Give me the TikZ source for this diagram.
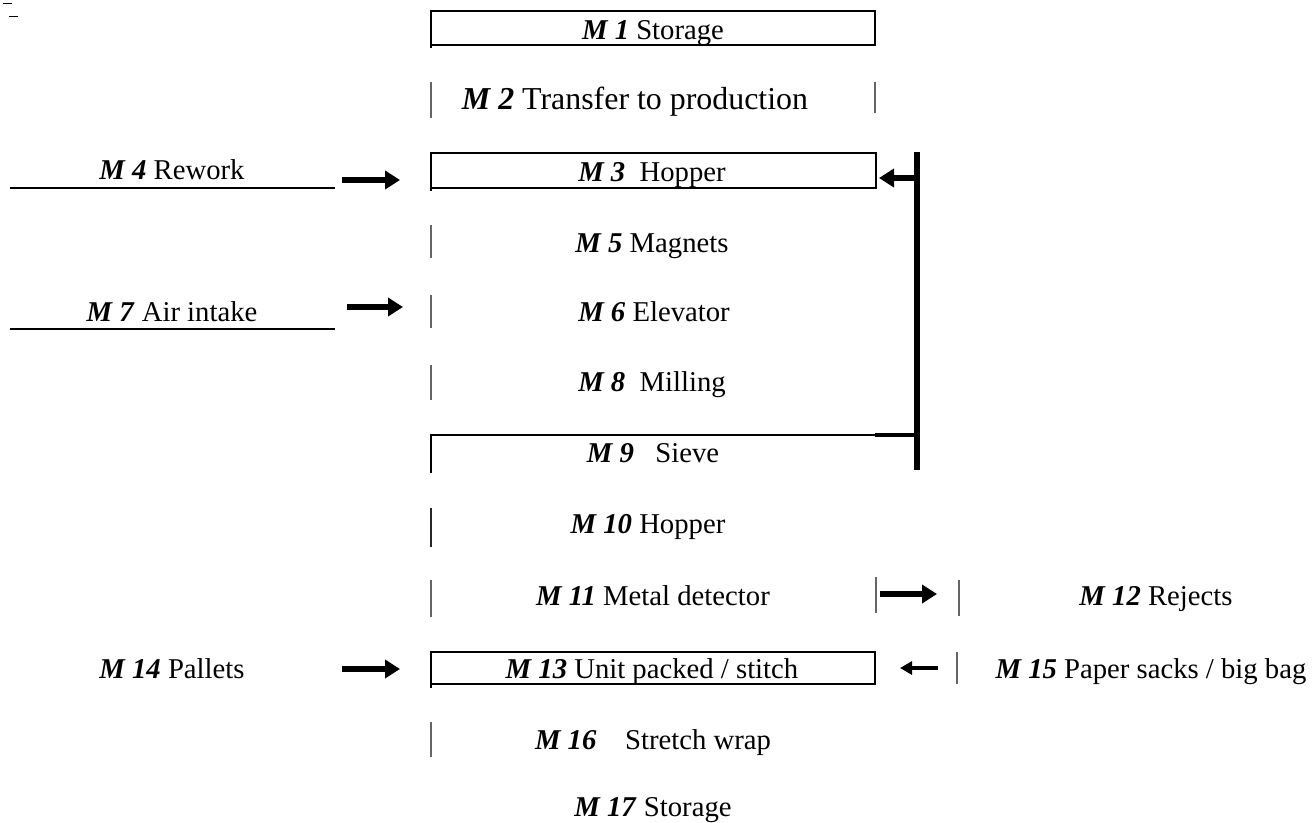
\documentclass[tikz,border=0pt]{standalone}
\usepackage{fontspec}
\setmainfont{Liberation Serif}
\usetikzlibrary{arrows.meta}

\newcommand{\mno}[1]{\textbf{\textit{M #1}}}

\begin{document}
\begin{tikzpicture}[x=1pt,y=-1pt,
  lbl/.style={inner sep=0pt,text height=20pt,text depth=0pt,font=\fontsize{28.7}{34}\selectfont},
  boxline/.style={black,line width=1.8pt},
  thinbar/.style={black!60,line width=1.6pt},
  fat/.style={line width=5.5pt,-{Triangle[length=15pt,width=18pt]}},
  slim/.style={line width=4pt,-{Triangle[length=12pt,width=13pt]}}]
  \useasboundingbox (0,0) rectangle (1313,822);
  % stray marks
  \draw[line width=1.3pt] (3,3.5) -- (12,3.5) (9,16.5) -- (18,16.5);
  % main column labels
  \node[lbl] (m1) at (653,29) {\mno{1} Storage};
  \node[lbl,font=\fontsize{31.9}{36}\selectfont] (m2) at (635,99) {\mno{2} Transfer to production};
  \node[lbl] (m3) at (652,171) {\mno{3}\ \ Hopper};
  \node[lbl] (m5) at (652,242) {\mno{5} Magnets};
  \node[lbl] (m6) at (654,311) {\mno{6} Elevator};
  \node[lbl] (m8) at (652,381) {\mno{8}\ \ Milling};
  \node[lbl] (m9) at (653,452) {\mno{9}\ \ \ Sieve};
  \node[lbl] (m10) at (648,523) {\mno{10} Hopper};
  \node[lbl] (m11) at (653,595) {\mno{11} Metal detector};
  \node[lbl] (m13) at (652,668) {\mno{13} Unit packed / stitch};
  \node[lbl] (m16) at (653,739) {\mno{16}\ \ \ \ Stretch wrap};
  \node[lbl] (m17) at (653,806) {\mno{17} Storage};
  % side labels
  \node[lbl] (m4) at (172,169) {\mno{4} Rework};
  \node[lbl] (m7) at (172,311) {\mno{7} Air intake};
  \node[lbl] (m14) at (172,668) {\mno{14} Pallets};
  \node[lbl] (m12) at (1156,595) {\mno{12} Rejects};
  \node[lbl] (m15) at (1151,668) {\mno{15} Paper sacks / big bag};
  % boxes
  \draw[boxline] (431,11) rectangle (875,45) (431,45) -- (431,48);
  \draw[boxline] (431,153) rectangle (876,188) (431,188) -- (431,191);
  \draw[boxline] (431,652) rectangle (875,684) (431,684) -- (431,688);
  \draw[boxline] (431,473) -- (431,435) -- (875,435);
  % underlines
  \draw[line width=1.4pt] (10,188) -- (335,188) (10,329) -- (335,329);
  % partial sides
  \foreach \x/\a/\b in {431/82/118, 875/82/113, 431/225/258, 431/295/328,
    431/365/400, 431/580/617, 876/577/613, 959/580/616, 957/652/684, 431/722/757}
    \draw[thinbar] (\x,\a) -- (\x,\b);
  \draw[black!85,line width=1.8pt] (431,508) -- (431,547);
  % return from sieve
  \draw[line width=6.5pt] (917,152) -- (917,470);
  \draw[line width=4.5pt] (875,435) -- (918,435);
  % arrows
  \coordinate (r4) at (342,180);  \coordinate (h3w) at (400,180);
  \coordinate (r7) at (347,307);  \coordinate (h6w) at (403,307);
  \coordinate (s9) at (918,178);  \coordinate (h3e) at (879,178);
  \coordinate (d11) at (880,594); \coordinate (j12) at (937,594);
  \coordinate (p14) at (342,669); \coordinate (u13w) at (400,669);
  \coordinate (p15) at (938,668); \coordinate (u13e) at (900,668);
  \draw[fat] (r4) -- (h3w);
  \draw[fat] (r7) -- (h6w);
  \draw[fat] (s9) -- (h3e);
  \draw[fat] (d11) -- (j12);
  \draw[fat] (p14) -- (u13w);
  \draw[slim] (p15) -- (u13e);
\end{tikzpicture}
\end{document}
